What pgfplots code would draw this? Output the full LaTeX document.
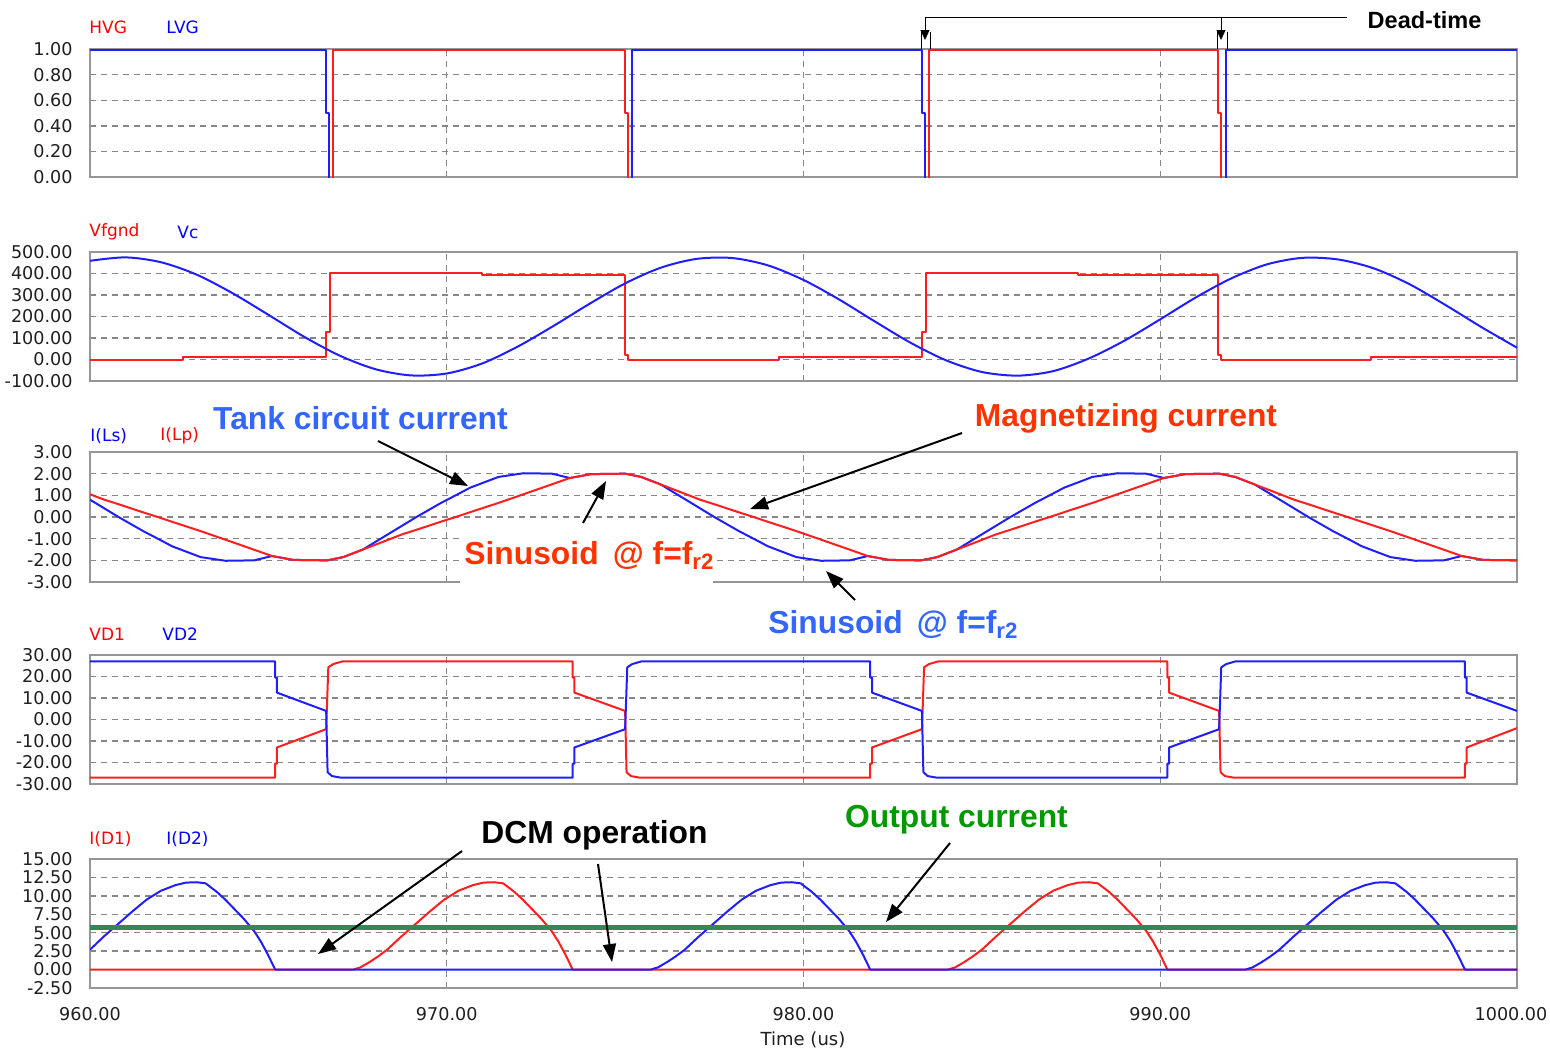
\documentclass[border=0pt]{standalone}
\usepackage{fontspec}
\setmainfont{Liberation Sans}
\newfontfamily\dv{DejaVu Sans}
\usepackage{pgfplots}
\pgfplotsset{compat=1.18}
\usetikzlibrary{arrows.meta}
\definecolor{tr}{RGB}{255,30,30}
\definecolor{tb}{RGB}{30,30,255}
\definecolor{gridc}{RGB}{135,135,135}
\definecolor{boxc}{RGB}{150,150,150}
\definecolor{annblue}{RGB}{51,102,255}
\definecolor{annred}{RGB}{255,51,0}
\definecolor{anngreen}{RGB}{0,153,0}
\definecolor{outg}{RGB}{46,139,87}
\pgfplotsset{
 panel/.style={
  scale only axis, width=713.5pt, anchor=south west,
  xmin=960, xmax=1000,
  xtick={970,980,990}, xticklabels={},
  grid=major,
  major grid style={draw=gridc, line width=0.7pt, dash pattern=on 3pt off 2.5pt},
  axis line style={draw=boxc, line width=0.9pt},
  major tick length=0pt,
  tick style={draw=none},
  yticklabel style={font=\dv\fontsize{8.8}{10}\selectfont, anchor=east, inner sep=0pt, xshift=-8.5pt, text=black!88},
  xticklabel style={font=\dv\fontsize{8.8}{10}\selectfont, anchor=north, inner sep=0pt, yshift=-9.5pt, text=black!88},
  every axis plot/.append style={line width=1pt, line join=round},
  clip=true,
 }
}
\begin{document}
\begin{tikzpicture}
\useasboundingbox (0,0) rectangle (775pt,-525pt);

% ---------- Panel 1: HVG / LVG
\begin{axis}[panel, at={(45pt,-88.5pt)}, height=64pt, ymin=0, ymax=1,
  ytick={0,0.2,0.4,0.6,0.8,1}, yticklabels={0.00,0.20,0.40,0.60,0.80,1.00}]
\addplot[tr] coordinates {(960,-0.03)(966.82,-0.03)(966.82,0.99)(975.0,0.99)(975.0,0.5)(975.08,0.5)(975.08,-0.03)(983.52,-0.03)(983.52,0.99)(991.62,0.99)(991.62,0.5)(991.70,0.5)(991.70,-0.03)(1000,-0.03)};
\addplot[tb] coordinates {(960,0.99)(966.62,0.99)(966.62,0.5)(966.70,0.5)(966.70,-0.03)(975.19,-0.03)(975.19,0.99)(983.32,0.99)(983.32,0.5)(983.40,0.5)(983.40,-0.03)(991.84,-0.03)(991.84,0.99)(1000,0.99)};
\end{axis}

% ---------- Panel 2: Vfgnd / Vc
\begin{axis}[panel, at={(45pt,-190.5pt)}, height=64.5pt, ymin=-100, ymax=500,
  ytick={-100,0,100,200,300,400,500}, yticklabels={-100.00,0.00,100.00,200.00,300.00,400.00,500.00}]
\addplot[tr] coordinates {(960,0)(962.6,0)(962.6,10)(966.62,10)(966.62,127)(966.72,127)(966.72,402)(971.0,402)(971.0,395)(975.0,395)(975.0,20)(975.08,20)(975.08,0)(979.3,0)(979.3,10)(983.32,10)(983.32,127)(983.42,127)(983.42,402)(987.7,402)(987.7,395)(991.62,395)(991.62,20)(991.7,20)(991.7,0)(995.9,0)(995.9,10)(1000,10)};
\addplot[tb, smooth] coordinates {(960,459)(961,475)(962,452)(963,394)(964,308)(965,208)(966,106)(967,18)(968,-45)(969,-74)(970,-65)(971,-18)(972,61)(973,157)(974,259)(975,354)(976,427)(977,468)(978,472)(979,438)(980,370)(981,279)(982,177)(983,78)(984,-4)(985,-58)(986,-75)(987,-54)(988,5)(989,88)(990,187)(991,289)(992,378)(993,443)(994,473)(995,465)(996,423)(997,349)(998,253)(999,151)(1000,55)};
\end{axis}

% ---------- Panel 3: I(Ls) / I(Lp)
\begin{axis}[panel, at={(45pt,-291pt)}, height=65pt, ymin=-3, ymax=3,
  ytick={-3,-2,-1,0,1,2,3}, yticklabels={-3.00,-2.00,-1.00,0.00,1.00,2.00,3.00}]
\addplot[tb] coordinates {(960,0.8)(960.4,0.4)(960.8,0.0)(961.5,-0.66)(961.9,-1.0)(962.3,-1.35)(963.1,-1.85)(963.8,-2.02)(964.6,-2.0)(965.1,-1.8)(965.7,-1.98)(966.65,-2.0)(967.1,-1.85)(967.65,-1.5)(968.25,-0.9)(968.75,-0.4)(969.15,0.0)(969.85,0.66)(970.25,1.0)(970.65,1.35)(971.45,1.85)(972.15,2.02)(972.95,2.0)(973.45,1.8)(974.05,1.98)(975.0,2.0)(975.45,1.85)(976.0,1.5)(976.6,0.9)(977.1,0.4)(977.5,0.0)(978.2,-0.66)(978.6,-1.0)(979.0,-1.35)(979.8,-1.85)(980.5,-2.02)(981.3,-2.0)(981.8,-1.8)(982.4,-1.98)(983.3,-2.0)(983.75,-1.85)(984.3,-1.5)(984.9,-0.9)(985.4,-0.4)(985.8,0.0)(986.5,0.66)(986.9,1.0)(987.3,1.35)(988.1,1.85)(988.8,2.02)(989.6,2.0)(990.1,1.8)(990.7,1.98)(991.65,2.0)(992.1,1.85)(992.65,1.5)(993.25,0.9)(993.75,0.4)(994.15,0.0)(994.85,-0.66)(995.25,-1.0)(995.65,-1.35)(996.45,-1.85)(997.15,-2.02)(997.95,-2.0)(998.45,-1.8)(999.05,-1.98)(1000,-2.0)};
\addplot[tr] coordinates {(960,1.05)(960.4,0.8)(960.8,0.59)(961.5,0.21)(961.9,0.0)(962.3,-0.22)(963.1,-0.65)(963.8,-1.05)(964.6,-1.51)(965.1,-1.8)(965.7,-1.98)(966.65,-2.0)(967.1,-1.85)(967.65,-1.5)(968.25,-1.12)(968.75,-0.8)(969.15,-0.59)(969.85,-0.21)(970.25,0)(970.65,0.22)(971.45,0.65)(972.15,1.05)(972.95,1.51)(973.45,1.8)(974.05,1.98)(975.0,2.0)(975.45,1.85)(976.0,1.5)(976.6,1.12)(977.1,0.8)(977.5,0.59)(978.2,0.21)(978.6,0)(979.0,-0.22)(979.8,-0.65)(980.5,-1.05)(981.3,-1.51)(981.8,-1.8)(982.4,-1.98)(983.3,-2.0)(983.75,-1.85)(984.3,-1.5)(984.9,-1.12)(985.4,-0.8)(985.8,-0.59)(986.5,-0.21)(986.9,0)(987.3,0.22)(988.1,0.65)(988.8,1.05)(989.6,1.51)(990.1,1.8)(990.7,1.98)(991.65,2.0)(992.1,1.85)(992.65,1.5)(993.25,1.12)(993.75,0.8)(994.15,0.59)(994.85,0.21)(995.25,0)(995.65,-0.22)(996.45,-0.65)(997.15,-1.05)(997.95,-1.51)(998.45,-1.8)(999.05,-1.98)(1000,-2.0)};
\end{axis}

% ---------- Panel 4: VD1 / VD2
\begin{axis}[panel, at={(45pt,-392pt)}, height=64.5pt, ymin=-30, ymax=30,
  ytick={-30,-20,-10,0,10,20,30}, yticklabels={-30.00,-20.00,-10.00,0.00,10.00,20.00,30.00}]
\addplot[tr] coordinates {(960,-27)(965.19,-27)(965.19,-20.5)(965.24,-20.5)(965.24,-13)(966.62,-4.5)(966.68,24.3)(966.82,25.8)(967.07,27)
 (973.53,27)(973.53,19.5)(973.58,19.5)(973.58,12.5)(975.0,4)(975.04,-24.5)(975.16,-26.3)(975.4,-27)
 (981.87,-27)(981.87,-20.5)(981.92,-20.5)(981.92,-13)(983.32,-4.5)(983.38,24.3)(983.52,25.8)(983.77,27)
 (990.2,27)(990.2,19.5)(990.25,19.5)(990.25,12.5)(991.65,4)(991.69,-24.5)(991.81,-26.3)(992.05,-27)
 (998.54,-27)(998.54,-20.5)(998.59,-20.5)(998.59,-13)(1000,-4)};
\addplot[tb] coordinates {(960,27)(965.19,27)(965.19,19.5)(965.24,19.5)(965.24,12.5)(966.62,4)(966.66,-24.5)(966.78,-26.3)(967.02,-27)
 (973.53,-27)(973.53,-20.5)(973.58,-20.5)(973.58,-13)(975.0,-4.5)(975.06,24.3)(975.2,25.8)(975.45,27)
 (981.87,27)(981.87,19.5)(981.92,19.5)(981.92,12.5)(983.32,4)(983.36,-24.5)(983.48,-26.3)(983.72,-27)
 (990.2,-27)(990.2,-20.5)(990.25,-20.5)(990.25,-13)(991.65,-4.5)(991.71,24.3)(991.85,25.8)(992.1,27)
 (998.54,27)(998.54,19.5)(998.59,19.5)(998.59,12.5)(1000,4)};
\end{axis}

% ---------- Panel 5: I(D1) / I(D2)
\begin{axis}[panel, at={(45pt,-494pt)}, height=64.5pt, ymin=-2.5, ymax=15,
  ytick={-2.5,0,2.5,5,7.5,10,12.5,15}, yticklabels={-2.50,0.00,2.50,5.00,7.50,10.00,12.50,15.00},
  xtick={960,970,980,990,1000}, xticklabels={960.00,970.00,980.00,990.00,\hspace*{-6pt}1000.00}]
\addplot[tr] coordinates {(960,0)(967.38,0)(967.58,0.3)(967.83,1.0)(968.08,1.8)(968.33,2.7)(968.73,4.5)(969.13,6.2)(969.53,7.9)(969.93,9.5)(970.33,10.7)(970.73,11.45)(971.03,11.8)(971.33,11.85)(971.58,11.7)(971.88,10.6)(972.13,9.5)(972.33,8.5)(972.63,7.0)(972.93,5.3)(973.13,3.8)(973.33,2.0)(973.53,0)
 (984.05,0)(984.25,0.3)(984.5,1.0)(984.75,1.8)(985.0,2.7)(985.4,4.5)(985.8,6.2)(986.2,7.9)(986.6,9.5)(987.0,10.7)(987.4,11.45)(987.7,11.8)(988.0,11.85)(988.25,11.7)(988.55,10.6)(988.8,9.5)(989.0,8.5)(989.3,7.0)(989.6,5.3)(989.8,3.8)(990.0,2.0)(990.2,0)(1000,0)};
\addplot[tb] coordinates {(960,2.7)(960.39,4.5)(960.79,6.2)(961.19,7.9)(961.59,9.5)(961.99,10.7)(962.39,11.45)(962.69,11.8)(962.99,11.85)(963.24,11.7)(963.54,10.6)(963.79,9.5)(963.99,8.5)(964.29,7.0)(964.59,5.3)(964.79,3.8)(964.99,2.0)(965.19,0)
 (975.72,0)(975.92,0.3)(976.17,1.0)(976.42,1.8)(976.67,2.7)(977.07,4.5)(977.47,6.2)(977.87,7.9)(978.27,9.5)(978.67,10.7)(979.07,11.45)(979.37,11.8)(979.67,11.85)(979.92,11.7)(980.22,10.6)(980.47,9.5)(980.67,8.5)(980.97,7.0)(981.27,5.3)(981.47,3.8)(981.67,2.0)(981.87,0)
 (992.39,0)(992.59,0.3)(992.84,1.0)(993.09,1.8)(993.34,2.7)(993.74,4.5)(994.14,6.2)(994.54,7.9)(994.94,9.5)(995.34,10.7)(995.74,11.45)(996.04,11.8)(996.34,11.85)(996.59,11.7)(996.89,10.6)(997.14,9.5)(997.34,8.5)(997.64,7.0)(997.94,5.3)(998.14,3.8)(998.34,2.0)(998.54,0)(1000,0)};
\addplot[outg, line width=2.6pt] coordinates {(960,5.7)(1000,5.7)};
\end{axis}

% ---------- annotations (pixel coordinates, origin top-left)
\begin{scope}[x=0.5pt,y=-0.5pt]
 \node[font=\dv\fontsize{9}{10}\selectfont, text=black!88] at (803,1040) {Time (us)};
 % series labels
 \begin{scope}[every node/.style={font=\dv\fontsize{8.5}{10}\selectfont, anchor=west, inner sep=0pt}]
  \node[text=red] at (89,27) {HVG};   \node[text=blue] at (166,27) {LVG};
  \node[text=red] at (89,232) {Vfgnd}; \node[text=blue] at (177,232) {Vc};
  \node[text=blue] at (90,436) {I(Ls)}; \node[text=red] at (160,436) {I(Lp)};
  \node[text=red] at (89,634) {VD1};  \node[text=blue] at (162,634) {VD2};
  \node[text=red] at (89,839) {I(D1)}; \node[text=blue] at (166,839) {I(D2)};
 \end{scope}
 % dead-time
 \draw[line width=0.5pt] (925,17) -- (1347,17);
 \draw[line width=0.5pt, -{Triangle[length=5pt,width=4.5pt]}] (925,17) -- (925,40);
 \draw[line width=0.5pt, -{Triangle[length=5pt,width=4.5pt]}] (1221,17) -- (1221,40);
 \draw[line width=0.5pt] (921,32) -- (921,49) (930,32) -- (930,49) (1217,32) -- (1217,49) (1227,32) -- (1227,49);
 \node[font=\bfseries\fontsize{11.75}{13}\selectfont] at (1424.5,20) {Dead-time};
 % big labels
 \tikzset{bigann/.style={font=\bfseries\fontsize{15.9}{18}\selectfont, inner sep=0pt}}
 \tikzset{annarr/.style={line width=1pt, -{Triangle[length=9pt,width=6.5pt]}}}
 \node[bigann, text=annblue] at (360.5,418) {Tank circuit current};
 \draw[annarr] (378,441) -- (468,486);
 \node[bigann, text=annred] at (1126,418) {Magnetizing current};
 \draw[annarr] (962,433) -- (750,509);
 \fill[white] (460,535) rectangle (713,583);
 \node[bigann, text=annred, anchor=base west] at (464,564) {Sinusoid\, @ f=f\textsubscript{r2}};
 \draw[annarr] (583,523) -- (606,481);
 \node[bigann, text=annblue, anchor=base west] at (768,633) {Sinusoid\, @ f=f\textsubscript{r2}};
 \draw[annarr] (855,600) -- (826,571);
 \node[bigann] at (594.5,835) {DCM operation};
 \draw[annarr] (462,851) -- (318,954);
 \draw[annarr] (598,864) -- (612,962);
 \node[bigann, text=anngreen] at (956.5,820) {Output current};
 \draw[annarr] (950,843) -- (886,922);
\end{scope}
\end{tikzpicture}
\end{document}
